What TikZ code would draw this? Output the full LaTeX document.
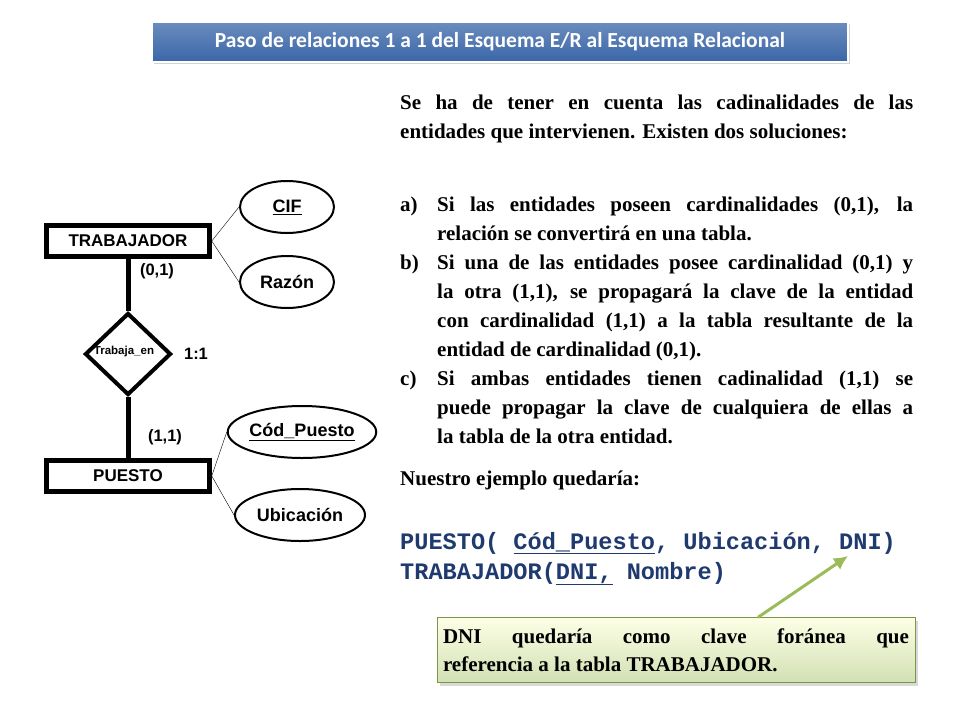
\documentclass[tikz,border=0pt]{standalone}
\usepackage{fontspec}
\setmainfont{Liberation Serif}
\newfontfamily\arialf{Liberation Sans}
\newfontfamily\monof{Liberation Mono}
\newfontfamily\calf{Carlito}
\usetikzlibrary{shapes.geometric,shadows,arrows.meta}
\definecolor{codeblue}{HTML}{1F3A6E}
\definecolor{titleblue}{HTML}{3A66A8}
\definecolor{arrowgreen}{HTML}{9BBB59}
\newcommand{\itm}[1]{\par\noindent\hangindent=37pt\hangafter=1\makebox[37pt][l]{#1}}
\tikzset{
 ent/.style={draw,line width=4.5pt,minimum width=163pt,minimum height=31pt,font=\arialf\bfseries\fontsize{17}{19}\selectfont,inner sep=0pt},
 attr/.style={draw,ellipse,line width=2pt,minimum height=52pt,font=\arialf\bfseries\fontsize{18}{20}\selectfont,inner sep=0pt},
 rel/.style={draw,diamond,line width=4pt,minimum width=86pt,minimum height=82pt,inner sep=0pt},
 card/.style={font=\arialf\bfseries\fontsize{16.5}{18}\selectfont},
 para/.style={anchor=north west,text width=513pt,align=justify,inner sep=0pt,font=\bfseries\fontsize{21}{29}\selectfont},
 code/.style={anchor=base west,inner sep=0pt,text=codeblue,font=\monof\bfseries\fontsize{23.6}{28}\selectfont}
}
\begin{document}
\begin{tikzpicture}[x=1pt,y=-1pt]
\useasboundingbox (0,0) rectangle (960,720);
% title
\node[draw=white,line width=1.5pt,top color=titleblue!75,bottom color=titleblue,drop shadow={shadow xshift=2pt,shadow yshift=-2pt,opacity=0.35},minimum width=696pt,minimum height=40pt,text=white,font=\calf\bfseries\fontsize{21.5}{24}\selectfont] (title) at (500,42) {Paso de relaciones 1 a 1 del Esquema E/R al Esquema Relacional};
% ER
\node[ent] (trab) at (128,241) {TRABAJADOR};
\node[ent] (pue) at (128,476) {PUESTO};
\node[rel] (dia) at (128,354) {};
\node[font=\arialf\bfseries\fontsize{11.5}{12}\selectfont] (dlab) at (124,352) {Trabaja\_en};
\node[attr,minimum width=94pt] (cif) at (287,207) {\underline{CIF}};
\node[attr,minimum width=94pt] (raz) at (287,282) {Razón};
\node[attr,minimum width=140pt] (cod) at (302,432) {\underline{Cód\_Puesto}};
\node[attr,minimum width=130pt] (ubi) at (300,515) {Ubicación};
\draw[line width=5pt] (trab.south) -- (dia.north);
\draw[line width=5pt] (dia.south) -- (pue.north);
\draw[thin] (trab.east) -- (cif.west);
\draw[thin] (trab.east) -- (raz.west);
\draw[thin] (pue.east) -- (cod.west);
\draw[thin] (pue.east) -- (ubi.west);
\node[card] (c01) at (157,271) {(0,1)};
\node[card] (c11) at (165,437) {(1,1)};
\node[card] (r11) at (196,354) {1:1};
% text
\node[para] (p1) at (400,95) {Se ha de tener en cuenta las cadinalidades de las\linebreak entidades que intervienen. Existen dos soluciones:};
\node[para] (p2) at (400,182) {%
\itm{a)}Si las entidades poseen cardinalidades (0,1), la\linebreak relación se convertirá en una tabla.
\itm{b)}Si una de las entidades posee cardinalidad (0,1) y\linebreak la otra (1,1), se propagará la clave de la entidad\linebreak con cardinalidad (1,1) a la tabla resultante de la\linebreak entidad de cardinalidad (0,1).
\itm{c)}Si ambas entidades tienen cadinalidad (1,1) se\linebreak puede propagar la clave de cualquiera de ellas a\linebreak la tabla de la otra entidad.\par};
\node[para] (p3) at (400,471) {Nuestro ejemplo quedaría:};
\node[code] (l1) at (400,549) {PUESTO( \underline{Cód\_Puesto}, Ubicación, DNI)};
\node[code] (l2) at (400,579) {TRABAJADOR(\underline{DNI,} Nombre)};
% green box
\node[draw=arrowgreen!80!black,top color=green!8!yellow!10,bottom color=arrowgreen!45,drop shadow={shadow xshift=3pt,shadow yshift=-3pt,opacity=0.3},minimum width=478pt,minimum height=65pt,text width=466pt,align=justify,inner sep=6pt,font=\bfseries\fontsize{21}{28}\selectfont] (gbox) at (676,650) {DNI quedaría como clave foránea que\linebreak referencia a la tabla TRABAJADOR.};
\coordinate (tip) at (848,556);
\draw[arrowgreen,line width=3pt,-{Latex[length=14pt,width=14pt]}] ([xshift=82pt]gbox.north) -- (tip);
\end{tikzpicture}
\end{document}
